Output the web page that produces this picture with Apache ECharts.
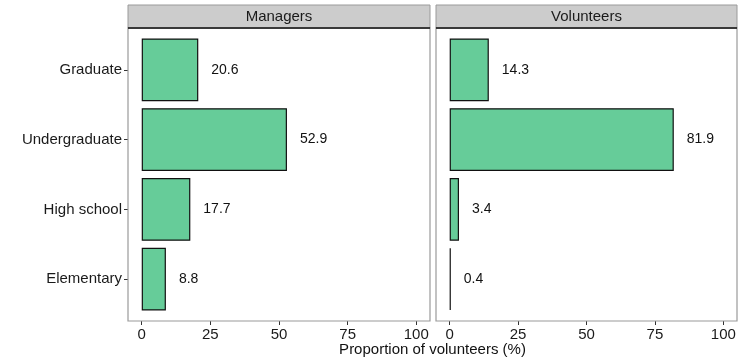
<!DOCTYPE html>
<html>
<head>
<meta charset="utf-8">
<script src="https://cdn.jsdelivr.net/npm/echarts@6/dist/echarts.min.js"></script>
<style>html,body{margin:0;padding:0;background:#fff}#c{width:753px;height:364px}</style>
</head>
<body>
<div id="c"></div>
<script>
var categories = ['Graduate', 'Undergraduate', 'High school', 'Elementary'];
var panels = ['Managers', 'Volunteers'];
var managers = [20.6, 52.9, 17.7, 8.8];
var volunteers = [14.3, 81.9, 3.4, 0.4];
var xTicks = [0, 25, 50, 75, 100];
var xTitle = 'Proportion of volunteers (%)';

var FONT = '"Liberation Sans", Arial, sans-serif';
var chart = echarts.init(document.getElementById('c'));
var P = [{left: 128, width: 302}, {left: 436, width: 301}];
var frameTop = 28, frameBottom = 321;
var barTop = 35, barH = 279;

function xAxis(i) {
  return {
    type: 'value', gridIndex: i, min: -5, max: 105,
    offset: frameBottom - (barTop + barH),
    axisLine: {show: false},
    axisTick: {show: true, length: 4, lineStyle: {color: '#333'}, customValues: xTicks},
    axisLabel: {color: '#1a1a1a', fontSize: 15, fontFamily: FONT, margin: 6, customValues: xTicks},
    splitLine: {show: false}
  };
}
function yAxis(i) {
  return {
    type: 'category', gridIndex: i, data: categories, inverse: true,
    axisLine: {show: false, onZero: false},
    axisTick: {show: i === 0, length: 4, alignWithLabel: true, lineStyle: {color: '#333'}},
    axisLabel: {show: i === 0, color: '#1a1a1a', fontSize: 15, fontFamily: FONT, margin: 6},
    splitLine: {show: false}
  };
}
function series(i, data) {
  return {
    type: 'bar', xAxisIndex: i, yAxisIndex: i, data: data, barWidth: '90%',
    itemStyle: {color: '#66CC99', borderColor: '#111', borderWidth: 1.2},
    label: {show: true, position: 'right', distance: 13, color: '#111', fontSize: 14, fontFamily: FONT,
      formatter: function(p){ return p.value.toFixed(1); }},
    silent: true, animation: false
  };
}
var graphics = [];
P.forEach(function(p, i){
  graphics.push({type: 'rect', shape: {x: p.left, y: frameTop, width: p.width, height: frameBottom - frameTop},
    style: {fill: 'none', stroke: '#9a9a9a', lineWidth: 1.2}, z: 10});
  graphics.push({type: 'rect', shape: {x: p.left, y: 5, width: p.width, height: frameTop - 5},
    style: {fill: '#CCCCCC', stroke: '#9a9a9a', lineWidth: 1}, z: 10});
  graphics.push({type: 'line', shape: {x1: p.left, y1: frameTop, x2: p.left + p.width, y2: frameTop},
    style: {stroke: '#111', lineWidth: 1.5}, z: 11});
  graphics.push({type: 'text', x: p.left + p.width / 2, y: 17,
    style: {text: panels[i], fill: '#1a1a1a', font: '15px ' + FONT, textAlign: 'center', textVerticalAlign: 'middle'}, z: 12});
});
graphics.push({type: 'text', x: (128 + 737) / 2, y: 350,
  style: {text: xTitle, fill: '#111', font: '15px ' + FONT, textAlign: 'center', textVerticalAlign: 'middle'}, z: 12});

chart.setOption({
  animation: false,
  grid: P.map(function(p){ return {left: p.left, width: p.width, top: barTop, height: barH, containLabel: false}; }),
  xAxis: [xAxis(0), xAxis(1)],
  yAxis: [yAxis(0), yAxis(1)],
  series: [series(0, managers), series(1, volunteers)],
  graphic: graphics
});
</script>
</body>
</html>
